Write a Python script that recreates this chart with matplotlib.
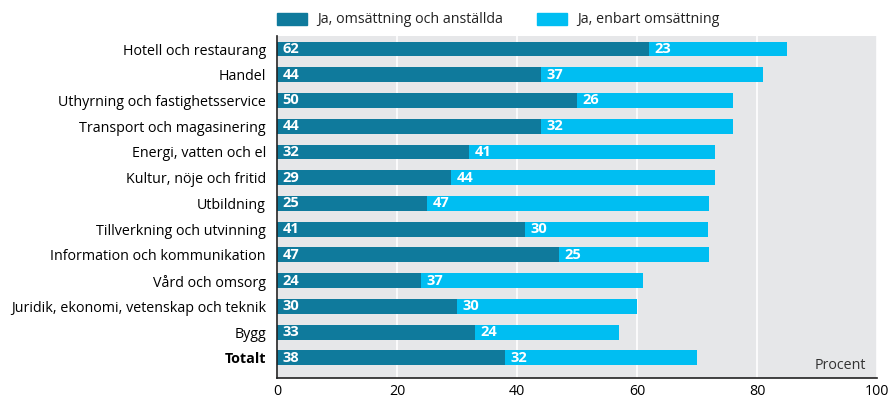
import numpy as np
import matplotlib.pyplot as plt
from matplotlib.patches import Rectangle

plt.rcParams['font.family'] = ['Open Sans', 'DejaVu Sans']

categories = ['Hotell och restaurang', 'Handel', 'Uthyrning och fastighetsservice',
              'Transport och magasinering', 'Energi, vatten och el', 'Kultur, nöje och fritid',
              'Utbildning', 'Tillverkning och utvinning', 'Information och kommunikation',
              'Vård och omsorg', 'Juridik, ekonomi, vetenskap och teknik', 'Bygg', 'Totalt']
oms_anst = [62, 44, 50, 44, 32, 29, 25, 41.4, 47, 24, 30, 33, 38]
enbart_oms = [23, 37, 26, 32, 41, 44, 47, 30.4, 25, 37, 30, 24, 32]
series_names = ['Ja, omsättning och anställda', 'Ja, enbart omsättning']
xticks = [0, 20, 40, 60, 80, 100]

dark = '#0f7a9c'
light = '#00bef2'

fig = plt.figure(figsize=(8.92, 4.0), dpi=100)
ax = fig.add_axes([277 / 892, 1 - 378 / 400, 600 / 892, 342 / 400])
ax.set_facecolor('#e6e7e9')

y = np.arange(len(categories))
h = 0.58
ax.barh(y, oms_anst, height=h, color=dark, zorder=3)
ax.barh(y, enbart_oms, left=oms_anst, height=h, color=light, zorder=3)

for i in range(len(categories)):
    ax.text(0.9, y[i], str(round(oms_anst[i])), color='white', fontweight='bold', fontsize=10.5,
            va='center', ha='left', zorder=4)
    ax.text(oms_anst[i] + 0.9, y[i], str(round(enbart_oms[i])), color='white', fontweight='bold',
            fontsize=10.5, va='center', ha='left', zorder=4)

ax.set_xlim(0, 100)
ax.set_ylim(12.78, -0.505)
ax.set_xticks(xticks)
ax.set_yticks(y)
ax.set_yticklabels(categories, fontsize=10.3)
ax.get_yticklabels()[-1].set_fontweight('bold')
ax.tick_params(axis='both', length=0, labelsize=10.3)
ax.tick_params(axis='x', pad=4)
ax.tick_params(axis='y', pad=8)
ax.grid(axis='x', color='white', linewidth=1.2, zorder=1)
for s in ['top', 'right']:
    ax.spines[s].set_visible(False)
for s in ['left', 'bottom']:
    ax.spines[s].set_color('#222222')
    ax.spines[s].set_linewidth(1.2)
    ax.spines[s].set_zorder(5)

ax.text(98.2, 12.3, 'Procent', ha='right', va='center', fontsize=10.3, color='#333333')

# legend drawn by hand to match the placement
for x0, col, name in [(277, dark, series_names[0]), (537, light, series_names[1])]:
    fig.patches.append(Rectangle((x0 / 892, 1 - 25 / 400), 30 / 892, 12 / 400,
                                 transform=fig.transFigure, color=col))
    fig.text((x0 + 40) / 892, 1 - 19.5 / 400, name, fontsize=10.3, va='center', ha='left',
             color='#222222')

fig.savefig('out.png', dpi=100)
